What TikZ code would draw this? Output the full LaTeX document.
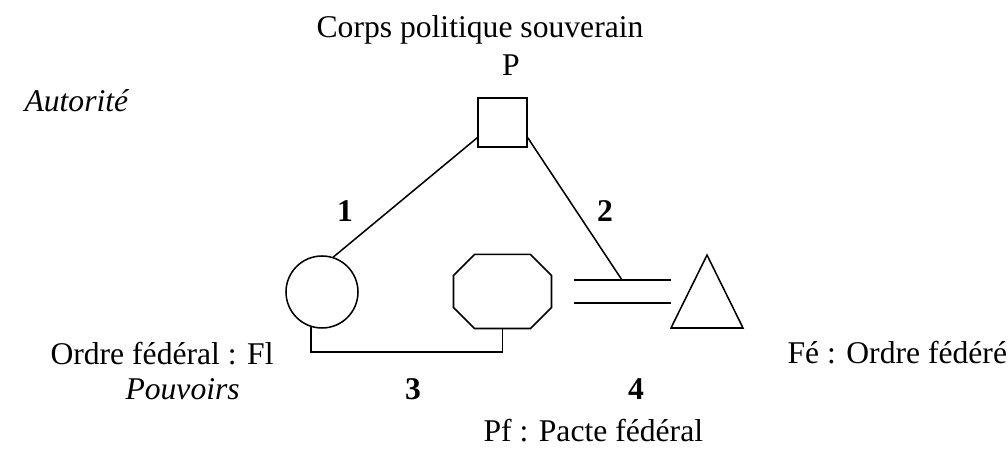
\documentclass[tikz,border=0pt]{standalone}
\usepackage{fontspec}
\setmainfont{Liberation Serif}
\usetikzlibrary{calc}
\begin{document}
\begin{tikzpicture}[x=0.392pt,y=-0.392pt,
  shapeline/.style={draw,line width=0.6pt,inner sep=0pt},
  link/.style={line width=0.6pt},
  lbl/.style={font=\fontsize{12.4pt}{14pt}\selectfont,inner sep=0pt},
  num/.style={lbl,font=\fontsize{12.4pt}{14pt}\selectfont\bfseries}]
\useasboundingbox (0,0) rectangle (1008,457);

% shapes
\node[shapeline,minimum width=49*0.392pt,minimum height=49*0.392pt] (sq) at (502.5,122.5) {};
\node[shapeline,circle,minimum size=72*0.392pt] (circ) at (322,292) {};
% octagon: a box with its four corners cut off
\node[inner sep=0pt,minimum width=97*0.392pt,minimum height=73*0.392pt] (oct) at (502.5,291.5) {};
\draw[link] ($(oct.north west)+(21,0)$) -- ($(oct.north east)+(-21,0)$)
  -- ($(oct.north east)+(0,21)$) -- ($(oct.south east)+(0,-21)$)
  -- ($(oct.south east)+(-21,0)$) -- ($(oct.south west)+(21,0)$)
  -- ($(oct.south west)+(0,-21)$) -- ($(oct.north west)+(0,21)$) -- cycle;
% triangle
\coordinate (triA) at (707,255);
\coordinate (triB) at (743,328);
\coordinate (triC) at (671,328);
\draw[link] (triA) -- (triB) -- (triC) -- cycle;

% double bar
\coordinate (barA) at (574,280);
\coordinate (barB) at (671,280);
\coordinate (barC) at (574,303);
\coordinate (barD) at (671,303);
\coordinate (join) at (622,280);
\draw[link] (barA) -- (barB);
\draw[link] (barC) -- (barD);

% connectors
\draw[link] ($(sq.south west)+(0,-10)$) -- (circ.72);
\draw[link] ($(sq.south east)+(0,-10)$) -- (join);
\draw[link] (circ.253) -- ++(0,25) -| (oct.south);

% labels
\node[lbl,anchor=base] (t1) at (480,38) {Corps politique souverain};
\node[lbl,anchor=base] (t2) at (511,76) {P};
\node[lbl,anchor=base west] (t3) at (24,112) {\itshape Autorité};
\node[num,anchor=base] (n1) at (345,222) {1};
\node[num,anchor=base] (n2) at (605,222) {2};
\node[lbl,anchor=base west] (t4) at (50,365) {Ordre fédéral : Fl};
\node[lbl,anchor=base west] (t5) at (125,400) {\itshape Pouvoirs};
\node[num,anchor=base] (n3) at (413,400) {3};
\node[num,anchor=base] (n4) at (636,400) {4};
\node[lbl,anchor=base west] (t6) at (787,364) {Fé : Ordre fédéré};
\node[lbl,anchor=base west] (t7) at (483,442) {Pf : Pacte fédéral};
\end{tikzpicture}
\end{document}
